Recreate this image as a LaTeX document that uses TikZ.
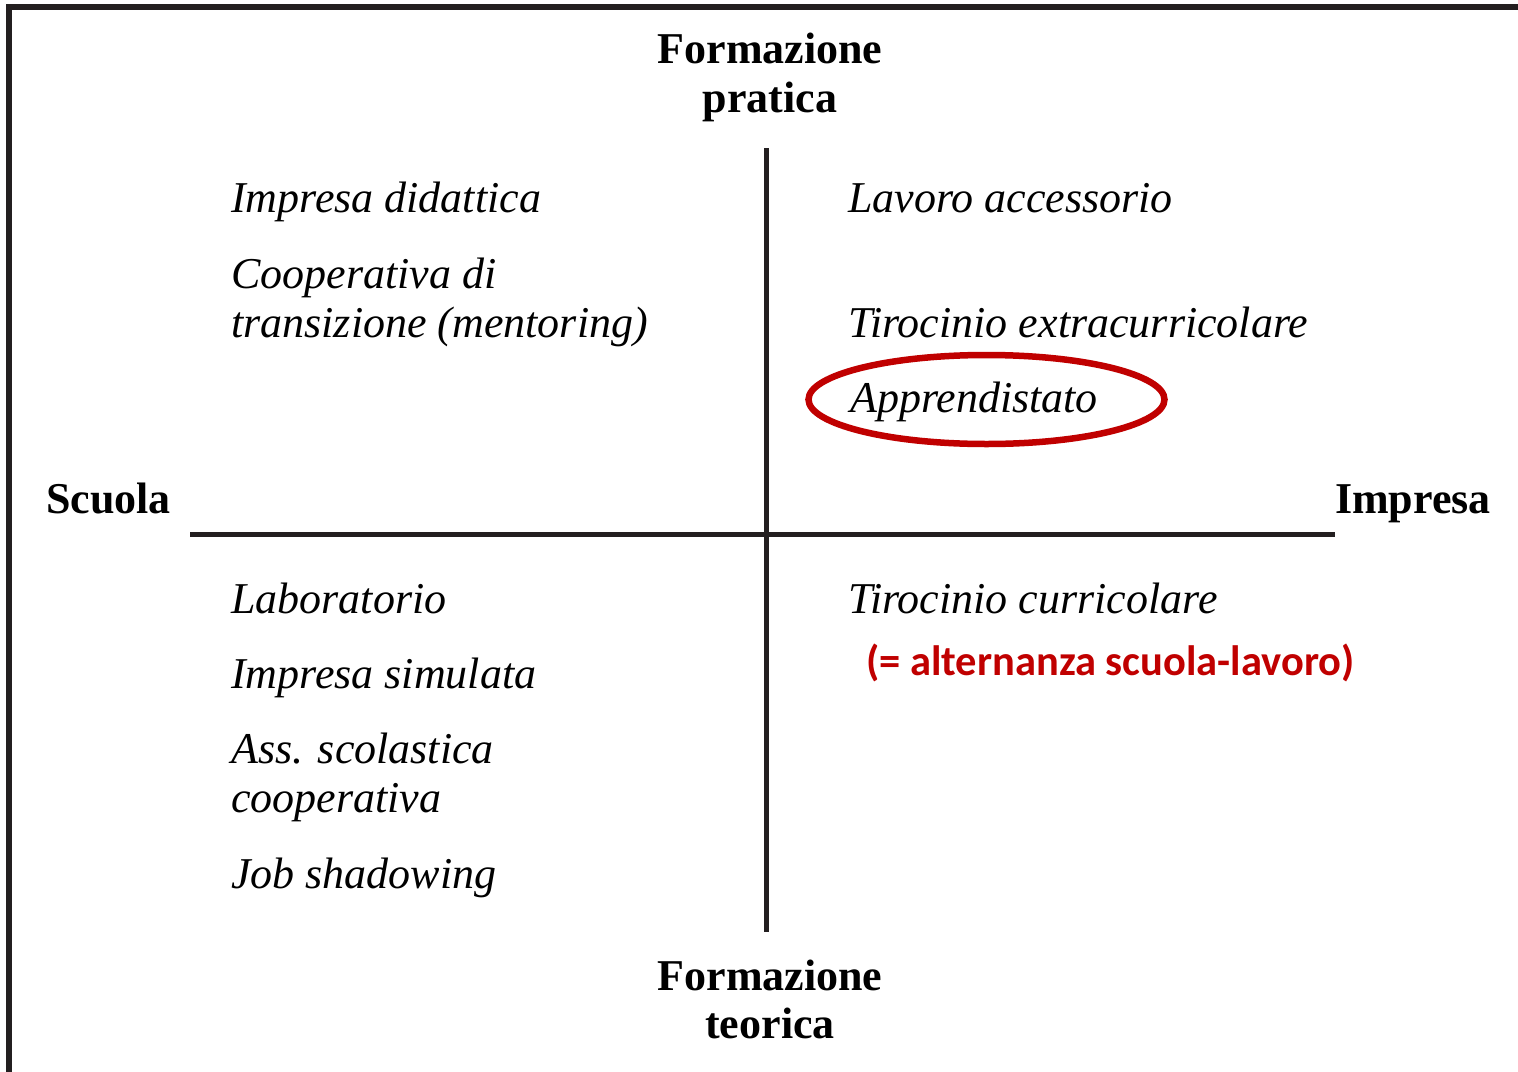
\documentclass[tikz,border=0pt]{standalone}
\usepackage{fontspec}
\setmainfont{Liberation Serif}
\newfontfamily\calib{Carlito}
\definecolor{inkdark}{HTML}{231F20}
\definecolor{redmark}{HTML}{C00000}
\begin{document}
\begin{tikzpicture}[x=1pt,y=-1pt,
  item/.style={anchor=base west,inner sep=0pt,font=\fontsize{44}{50}\selectfont\itshape},
  axislabel/.style={inner sep=0pt,font=\fontsize{44}{50}\selectfont\bfseries},
  axisline/.style={draw=inkdark,line width=5pt},
  framelne/.style={draw=inkdark,line width=6pt}]
\useasboundingbox (0,0) rectangle (1518,1071);
% frame
\coordinate (fbl) at (9,1075);
\coordinate (ftl) at (9,7);
\coordinate (ftr) at (1522,7);
\draw[framelne] (fbl) -- (ftl) -- (ftr);
% axes
\coordinate (vt) at (766,148);
\coordinate (vb) at (766,932);
\coordinate (hl) at (190,534);
\coordinate (hr) at (1335,534);
\draw[axisline] (vt) -- (vb);
\draw[axisline] (hl) -- (hr);
% axis labels
\node[axislabel,anchor=base] (fp1) at (770,63) {Formazione};
\node[axislabel,anchor=base] (fp2) at (770,112) {pratica};
\node[axislabel,anchor=base] (ft1) at (770,990) {Formazione};
\node[axislabel,anchor=base] (ft2) at (770,1038) {teorica};
\node[axislabel,anchor=base west] (sc) at (46,513) {Scuola};
\node[axislabel,anchor=base west] (im) at (1335,513) {Impresa};
% top-left
\node[item] (a1) at (231,212) {Impresa didattica};
\node[item] (a2) at (231,288) {Cooperativa di};
\node[item] (a3) at (231,337) {transizione (mentoring)};
% top-right
\node[item] (b1) at (848,212) {Lavoro accessorio};
\node[item] (b2) at (848,337) {Tirocinio extracurricolare};
\node[item] (b3) at (850,412) {Apprendistato};
\draw[redmark,line width=6.5pt] (986.5,399.5) ellipse [x radius=178,y radius=44.5];
% bottom-left
\node[item] (c1) at (231,613) {Laboratorio};
\node[item] (c2) at (231,688) {Impresa simulata};
\node[item] (c3) at (231,763) {Ass. scolastica};
\node[item] (c4) at (231,812) {cooperativa};
\node[item] (c5) at (231,888) {Job shadowing};
% bottom-right
\node[item] (d1) at (848,613) {Tirocinio curricolare};
\node[anchor=base west,inner sep=0pt,text=redmark,font=\calib\fontsize{42.5}{48}\selectfont\bfseries] (d2) at (866,675) {(= alternanza scuola-lavoro)};
\end{tikzpicture}
\end{document}
